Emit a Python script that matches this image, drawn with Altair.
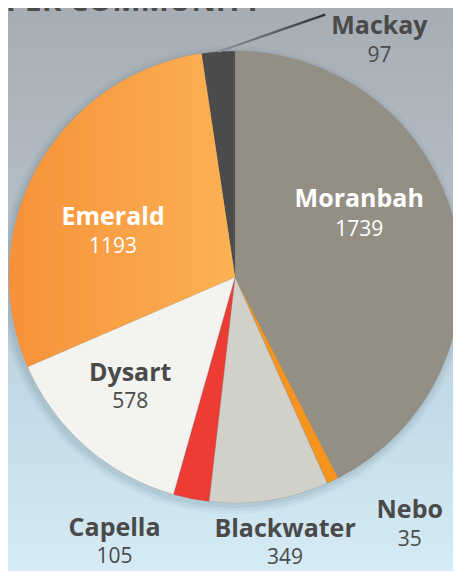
import altair as alt
import pandas as pd

communities = ["Moranbah", "Nebo", "Blackwater", "Capella", "Dysart", "Emerald", "Mackay"]
counts = [1739, 35, 349, 105, 578, 1193, 97]
slice_colors = ["#948f85", "#f7941e", "#d2d1c9", "#ee3b33", "#f3f3ef", "#f9a248", "#4b4b4b"]
title_text = "PER COMMUNITY"

df = pd.DataFrame({"community": communities, "count": counts, "idx": list(range(len(communities)))})
one = pd.DataFrame({"k": [0]})

W, H = 445, 563
CX, CY, R = 227, 269, 226
FONT = "Open Sans"
DARK = "#4a4a4a"

theta_scale = alt.Scale(domain=[0, 1], range=[0, 6.283185307179586])

base = (
    alt.Chart(df)
    .transform_joinaggregate(total="sum(count)")
    .transform_window(cum="sum(count)", sort=[alt.SortField("idx")], frame=[None, 0])
    .transform_calculate(
        f0="(datum.cum - datum.count) / datum.total",
        f1="datum.cum / datum.total",
        fm="(datum.cum - datum.count / 2) / datum.total",
    )
)

bg = alt.Chart(one).mark_rect(
    color=alt.Gradient(
        gradient="linear", x1=0, x2=0, y1=0, y2=1,
        stops=[
            alt.GradientStop(offset=0, color="#a6adb4"),
            alt.GradientStop(offset=0.35, color="#b4bec6"),
            alt.GradientStop(offset=0.7, color="#c4dbe7"),
            alt.GradientStop(offset=1, color="#d5ecf6"),
        ],
    )
).encode(x=alt.value(0), x2=alt.value(W), y=alt.value(0), y2=alt.value(H))

title = alt.Chart(one).mark_text(
    text=title_text, font=FONT, fontWeight="bold", fontSize=30, color=DARK,
    align="left", baseline="alphabetic",
).encode(x=alt.value(-2), y=alt.value(3))

shadows = []
for rr, op in [(234, 0.04), (231, 0.05), (228, 0.07)]:
    shadows.append(
        alt.Chart(one).mark_arc(radius=rr, theta=0, theta2=6.2832, color="#23404f", opacity=op)
        .encode(x=alt.value(CX - 2), y=alt.value(CY + 3))
    )

arcs = base.mark_arc(radius=R, stroke="#7d7d7d", strokeWidth=0.4, strokeOpacity=0.6).encode(
    theta=alt.Theta("f0:Q", scale=theta_scale, stack=None),
    theta2="f1:Q",
    color=alt.Color("community:N", scale=alt.Scale(domain=communities, range=slice_colors), legend=None),
    x=alt.value(CX), y=alt.value(CY),
)

emerald = base.transform_filter(alt.datum.community == "Emerald").mark_arc(
    radius=R,
    color=alt.Gradient(
        gradient="linear", x1=0, x2=1, y1=0, y2=0,
        stops=[
            alt.GradientStop(offset=0, color="#f7913a"),
            alt.GradientStop(offset=1, color="#fbb253"),
        ],
    ),
).encode(
    theta=alt.Theta("f0:Q", scale=theta_scale, stack=None),
    theta2="f1:Q",
    x=alt.value(CX), y=alt.value(CY),
)

# leader line for Mackay
leader = base.transform_filter(alt.datum.community == "Mackay").transform_calculate(
    lx=f"{CX} + {R} * sin(2 * PI * datum.fm)",
    ly=f"{CY} - {R} * cos(2 * PI * datum.fm)",
).transform_calculate(
    lx2="datum.lx + 107", ly2="datum.ly - 37"
).mark_rule(
    strokeWidth=2.2,
    color=alt.Gradient(
        gradient="linear", x1=0, x2=1, y1=0, y2=0,
        stops=[
            alt.GradientStop(offset=0, color="#8f969c"),
            alt.GradientStop(offset=1, color="#2f3133"),
        ],
    ),
).encode(
    x=alt.X("lx:Q", scale=None), y=alt.Y("ly:Q", scale=None),
    x2="lx2:Q", y2="ly2:Q",
)

# label placement: community -> (radius, dx, name dy, value dy, colour)
label_spec = {
    "Moranbah": (135, -7, -46, -15, "white"),
    "Emerald": (128, -10, 2, 32, "white"),
    "Dysart": (150, -6, -17, 12, DARK),
    "Blackwater": (270, 9, -15, 14, DARK),
    "Capella": (280, -66, -24, 5, DARK),
    "Nebo": (270, 58, -10, 20, DARK),
    "Mackay": (250, 163, -2, 28, DARK),
}

labels = []
for name, (rad, dx, ndy, vdy, col) in label_spec.items():
    sub = base.transform_filter(alt.datum.community == name)
    enc = dict(
        theta=alt.Theta("fm:Q", scale=theta_scale, stack=None),
        x=alt.value(CX), y=alt.value(CY),
    )
    labels.append(
        sub.mark_text(radius=rad, dx=dx, dy=ndy, font=FONT, fontWeight="bold", fontSize=25,
                      color=col, align="center", baseline="middle")
        .encode(text="community:N", **enc)
    )
    labels.append(
        sub.mark_text(radius=rad, dx=dx, dy=vdy, font=FONT, fontSize=21,
                      color=col, align="center", baseline="middle")
        .encode(text="count:Q", **enc)
    )

chart = alt.layer(bg, title, *shadows, arcs, emerald, leader, *labels).properties(
    width=W, height=H, padding=0,
    autosize=alt.AutoSizeParams(type="none"),
).configure_view(stroke=None)

chart.save("out.html", embed_options={"renderer": "svg", "actions": False})
